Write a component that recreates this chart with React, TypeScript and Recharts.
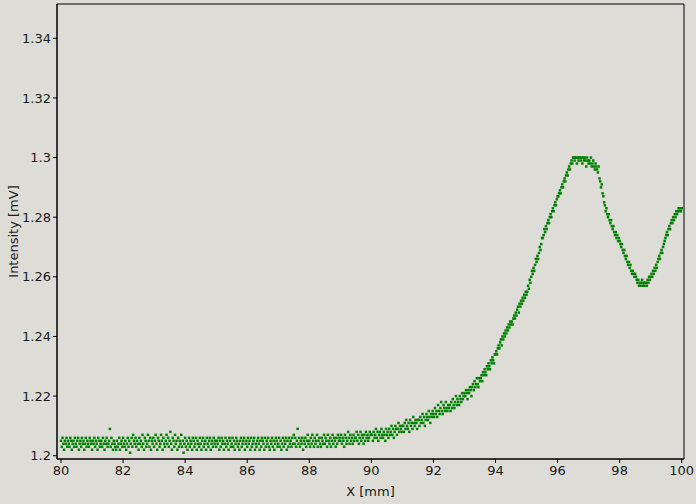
import React from 'react';
import { ScatterChart, Scatter, XAxis, YAxis, ReferenceArea } from 'recharts';

// Sample grid along X [mm]
const X_START = 80;
const X_STEP = 0.025;
// Intensity readings, in 0.001 mV above 1.200 mV
const BASE_MV = 1.2;
const UNIT_MV = 0.001;

const baseline80to90 = [
  5,3,6,4,2,5,4,6,3,5,4,3,6,5,2,4,5,3,6,4,
  3,5,6,2,4,5,3,6,4,5,2,4,6,3,5,4,3,6,5,4,
  2,5,4,6,3,5,4,2,6,5,3,4,5,3,6,4,2,5,4,6,
  3,4,5,9,3,6,4,2,5,4,3,2,5,3,4,6,2,4,5,3,
  6,4,3,5,2,4,6,3,5,1,4,6,3,7,5,4,6,3,5,4,
  2,6,4,5,3,7,4,2,6,5,3,4,7,5,3,6,2,5,4,6,
  3,5,7,4,2,6,5,3,4,7,5,2,6,4,3,5,7,4,6,3,
  5,8,4,2,6,5,3,7,4,5,2,6,3,5,4,7,3,5,1,4,
  6,3,5,2,4,6,3,5,4,2,6,5,3,4,6,2,5,4,3,6,
  4,2,5,6,3,4,5,2,6,4,3,5,6,2,4,5,3,6,4,5,
  3,5,4,6,2,5,3,6,4,5,2,4,6,3,5,4,2,6,5,3,
  4,6,3,5,2,4,6,5,3,4,2,5,6,3,4,5,6,2,4,5,
  3,6,4,5,2,6,3,4,5,6,2,4,3,5,6,4,2,5,3,6,
  5,4,2,6,3,5,4,6,3,2,5,4,6,3,5,2,4,6,5,3,
  4,6,3,5,2,4,6,3,5,4,6,2,5,3,6,4,5,3,6,4,
  7,4,6,3,5,9,4,6,3,5,4,6,2,5,4,6,3,5,7,4,
  5,3,6,4,7,5,3,6,4,5,7,3,5,6,4,3,6,5,4,7,
  4,6,5,3,7,5,4,6,3,5,7,4,6,5,3,6,4,7,5,6,
  5,7,4,6,5,3,7,6,4,5,8,6,4,7,5,6,4,7,5,6,
  6,8,5,7,4,6,8,5,7,6,4,7,5,8,6,7,5,6,8,7,
  7,
];

const rise90to95 = [
  7,5,8,6,7,9,6,8,5,7,8,6,9,7,6,8,7,5,9,7,
  8,6,9,7,8,10,7,9,6,8,10,9,7,9,11,8,10,9,8,10,
  10,8,11,9,12,10,9,11,8,12,10,11,9,13,11,10,12,11,9,12,
  12,10,13,11,12,14,11,13,10,12,14,13,12,15,13,11,14,13,15,14,
  13,16,14,15,13,17,15,14,16,18,15,14,17,16,15,18,16,15,17,16,
  17,15,18,16,19,17,16,18,20,17,19,18,17,20,19,18,21,19,20,21,
  20,22,21,19,22,21,23,22,20,23,24,22,25,23,24,26,24,23,26,25,
  26,27,25,28,27,29,28,27,30,29,31,30,29,32,31,33,32,31,34,34,
  35,34,36,37,36,38,39,37,40,39,41,40,42,41,43,42,44,43,45,44,
  45,44,46,47,46,48,47,49,50,48,51,50,52,51,53,52,54,53,55,54,
];

const peak95to97 = [
  55,57,56,59,58,60,62,61,63,62,64,66,65,67,66,68,70,69,71,73,
  73,74,76,75,77,76,78,79,78,80,81,80,82,83,82,84,85,84,86,87,
  87,88,89,88,90,91,90,92,93,92,94,95,94,96,97,96,98,99,98,100,
  100,99,100,100,98,100,99,100,100,99,100,98,100,99,100,99,97,100,99,98,
];

const tail97to100 = [
  99,98,100,97,98,99,97,96,98,97,96,95,97,93,92,90,91,88,87,85,
  84,82,83,81,80,81,79,78,79,77,76,77,75,74,75,73,74,72,73,72,
  71,70,71,69,68,69,67,66,67,65,64,65,63,64,62,61,62,61,60,61,
  60,59,58,59,57,58,57,58,59,57,58,57,58,58,57,59,58,60,59,60,
  61,60,62,61,63,62,64,63,65,66,67,66,68,69,68,70,71,72,73,74,
  75,74,76,77,76,78,79,78,80,79,81,80,82,81,82,83,82,83,82,83,
];

const xTicks = [80, 82, 84, 86, 88, 90, 92, 94, 96, 98, 100];
const yTicks = [1.2, 1.22, 1.24, 1.26, 1.28, 1.3, 1.32, 1.34];

const X_MIN = 79.871;
const X_MAX = 100.074;
const Y_MIN = 1.1989;
const Y_MAX = 1.3515;

const readings = [...baseline80to90, ...rise90to95, ...peak95to97, ...tail97to100];
const data = readings.map((v, i) => ({
  x: +(X_START + i * X_STEP).toFixed(3),
  y: +(BASE_MV + v * UNIT_MV).toFixed(4),
}));

const BG = '#dddcd7';
const TEXT = '#1a1a1a';
const GREEN = '#008000';

const Marker = (props: any) => {
  const { cx, cy } = props;
  if (cx == null || cy == null) return null;
  return <rect x={cx - 1.25} y={cy - 1.25} width={2.5} height={2.5} fill={GREEN} />;
};

const tickStyle = { fill: TEXT, fontSize: 13, fontFamily: 'DejaVu Sans' };

export default function App() {
  return (
    <div style={{ position: 'absolute', left: 0, top: 0, width: 696, height: 504, background: BG }}>
      <ScatterChart width={696} height={504} margin={{ top: 4, right: 12, bottom: 0, left: 0 }}
        style={{ fontFamily: 'DejaVu Sans' }}>
        <XAxis
          type="number"
          dataKey="x"
          domain={[X_MIN, X_MAX]}
          ticks={xTicks}
          allowDataOverflow
          height={45}
          tickSize={4}
          tickMargin={3}
          stroke="#000"
          tick={tickStyle}
          tickLine={{ stroke: '#000' }}
          axisLine={{ stroke: '#000' }}
          label={{ value: 'X [mm]', position: 'insideBottom', offset: 8, fill: TEXT, fontSize: 13, fontFamily: 'DejaVu Sans' }}
        />
        <YAxis
          type="number"
          dataKey="y"
          domain={[Y_MIN, Y_MAX]}
          ticks={yTicks}
          allowDataOverflow
          width={57}
          tickSize={4}
          tickMargin={2}
          stroke="#000"
          tick={tickStyle}
          tickLine={{ stroke: '#000' }}
          axisLine={{ stroke: '#000' }}
          label={{ value: 'Intensity [mV]', angle: -90, position: 'center', dx: -15, fill: TEXT, fontSize: 13, fontFamily: 'DejaVu Sans' }}
        />
        <ReferenceArea x1={X_MIN} x2={X_MAX} y1={Y_MIN} y2={Y_MAX} fill="none" stroke="#000" strokeWidth={1} fillOpacity={0} ifOverflow="visible" />
        <Scatter data={data} shape={Marker} isAnimationActive={false} />
      </ScatterChart>
    </div>
  );
}
